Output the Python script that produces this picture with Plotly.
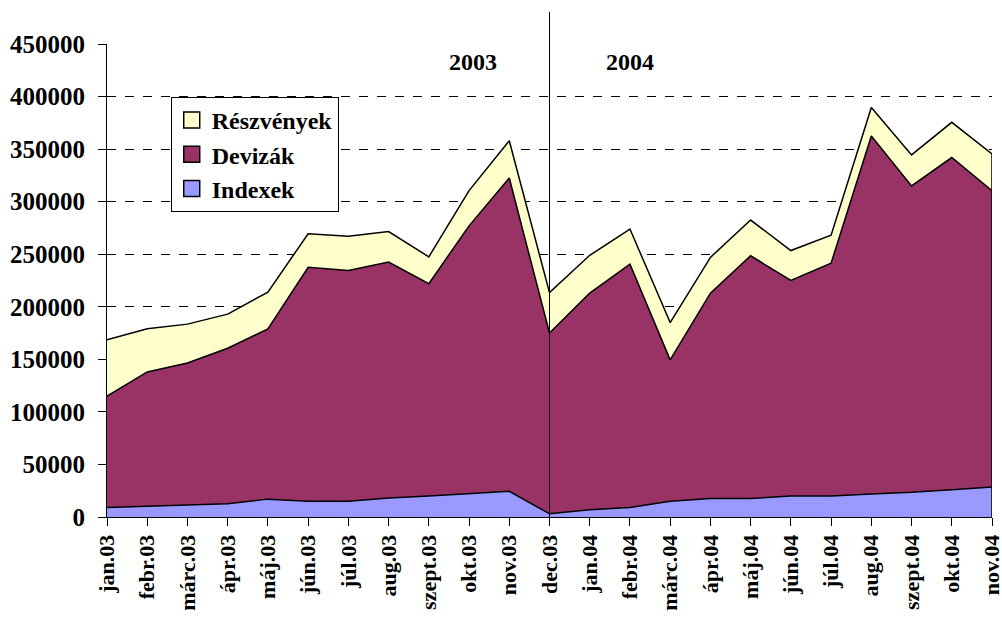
import plotly.graph_objects as go

months = ["jan.03", "febr.03", "márc.03", "ápr.03", "máj.03", "jún.03", "júl.03", "aug.03",
          "szept.03", "okt.03", "nov.03", "dec.03", "jan.04", "febr.04", "márc.04", "ápr.04",
          "máj.04", "jún.04", "júl.04", "aug.04", "szept.04", "okt.04", "nov.04"]
indexek = [9000, 10000, 11500, 12500, 17000, 15000, 15000, 18000, 20000, 22000, 24500, 3000,
           7000, 9000, 15000, 17500, 17500, 20000, 20000, 22000, 23500, 26000, 28500]
devizak = [106000, 128000, 135000, 148000, 162000, 222500, 219500, 224500, 202000, 255000, 298000, 172000,
           206000, 231500, 134500, 195500, 231000, 205000, 221500, 340500, 291500, 316000, 282000]
reszvenyek = [53500, 41000, 37000, 32500, 35000, 32000, 32500, 29000, 25500, 33500, 35500, 38500,
              36000, 33500, 35500, 34000, 34000, 28500, 26500, 27000, 29500, 33500, 35000]
y_ticks = [0, 50000, 100000, 150000, 200000, 250000, 300000, 350000, 400000, 450000]

FONT = "'Liberation Serif', 'Times New Roman', Times, serif"

fig = go.Figure()
series = [("Indexek", indexek, "#9999FF"), ("Devizák", devizak, "#993366"), ("Részvények", reszvenyek, "#FFFFCC")]
for name, vals, col in series:
    fig.add_trace(go.Scatter(x=months, y=vals, name=name, stackgroup="one", mode="lines",
                             line=dict(color="black", width=1.5), fillcolor=col, showlegend=False))
# legend entries with square swatches
for name, vals, col in series:
    fig.add_trace(go.Scatter(x=[None], y=[None], name=name, mode="markers",
                             marker=dict(symbol="square", size=17, color=col,
                                         line=dict(color="black", width=1.5))))

totals = [a + b + c for a, b, c in zip(indexek, devizak, reszvenyek)]
fig.add_shape(type="line", xref="x", yref="y", x0=len(months) - 1, x1=len(months) - 1,
              y0=0, y1=totals[-1], line=dict(color="black", width=1.5))
fig.add_shape(type="line", xref="x", yref="paper", x0=months.index("dec.03"), x1=months.index("dec.03"),
              y0=0, y1=1.068, line=dict(color="black", width=1))

fig.add_annotation(x=9.1, y=433000, xref="x", yref="y", text="<b>2003</b>", showarrow=False,
                   font=dict(family=FONT, size=24, color="black"))
fig.add_annotation(x=13.0, y=433000, xref="x", yref="y", text="<b>2004</b>", showarrow=False,
                   font=dict(family=FONT, size=24, color="black"))

fig.update_layout(
    width=1002, height=622,
    margin=dict(l=107, r=10, t=44, b=105, autoexpand=False),
    paper_bgcolor="white", plot_bgcolor="white",
    font=dict(family=FONT, color="black"),
    showlegend=True,
    legend=dict(x=0.072, y=0.888, xanchor="left", yanchor="top", traceorder="reversed",
                bgcolor="white", bordercolor="black", borderwidth=1,
                font=dict(family=FONT, size=24, color="black", weight="bold"),
                itemwidth=30, tracegroupgap=0),
    xaxis=dict(type="category", range=[0, len(months) - 1], showgrid=False, automargin=False,
               showline=True, linecolor="black", linewidth=1,
               ticks="outside", ticklen=8, tickcolor="black",
               tickangle=-90, tickfont=dict(family=FONT, size=22, color="black", weight="bold")),
    yaxis=dict(range=[0, 450000], tickvals=y_ticks, ticktext=[str(v) for v in y_ticks], automargin=False,
               showgrid=True, gridcolor="black", griddash="dash", gridwidth=1,
               showline=True, linecolor="black", linewidth=1, zeroline=False,
               ticks="outside", ticklen=8, tickcolor="black", ticklabelstandoff=8,
               tickfont=dict(family=FONT, size=25, color="black", weight="bold")),
)

fig.write_html("out.html", config={"displayModeBar": False},
               post_script="document.body.style.margin='0';document.body.style.overflow='hidden';")
